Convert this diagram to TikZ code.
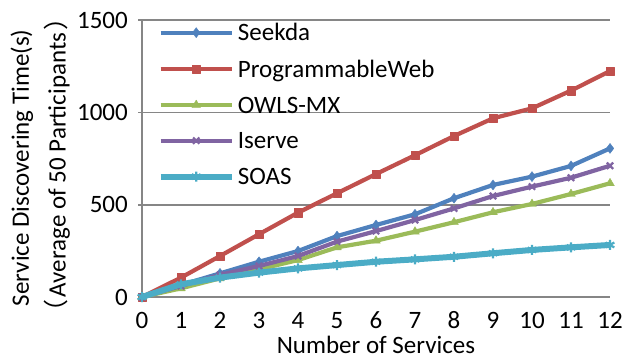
\documentclass[tikz,border=0pt]{standalone}
\usepackage{fontspec}
\setmainfont{Carlito}
\newfontfamily\cjk{Noto Sans CJK SC}
\usetikzlibrary{plotmarks}
\tikzset{>=stealth}
\definecolor{seekdablue}{RGB}{79,129,189}
\definecolor{pwred}{RGB}{192,80,77}
\definecolor{owlsgreen}{RGB}{155,187,89}
\definecolor{iservepurple}{RGB}{128,100,162}
\definecolor{soasaqua}{RGB}{75,172,198}
\definecolor{gridgray}{RGB}{134,134,134}
\tikzset{
  series/.style={line width=4.2pt, line join=round},
  seekda/.style={series, seekdablue, mark=diamond*, mark size=5pt,
    mark options={solid, line width=0.4pt, fill=seekdablue}},
  pweb/.style={series, pwred, mark=square*, mark size=4.2pt,
    mark options={solid, line width=0.4pt, fill=pwred}},
  owls/.style={series, owlsgreen, mark=triangle*, mark size=5pt,
    mark options={solid, line width=0.4pt, fill=owlsgreen}},
  iserve/.style={series, iservepurple, mark=x, mark size=4.5pt,
    mark options={solid, line width=2.2pt}},
  soas/.style={series, line width=6pt, soasaqua, mark=asterisk, mark size=5pt,
    mark options={solid, line width=2.2pt}},
  ticklabel/.style={inner sep=0pt, font=\fontsize{25}{30}\selectfont},
  legendtext/.style={anchor=base west, inner sep=0pt, font=\fontsize{25}{30}\selectfont}
}

\begin{document}
\begin{tikzpicture}[x=39pt, y=0.1846pt]
    \useasboundingbox (-3.641,-341.3) rectangle (12.692,1608.9);
    % grid and axes
    \foreach \y in {0,500,1000,1500}
    \draw[gridgray, line width=1.6pt] (-0.1,\y) -- (12,\y);
    \draw[gridgray, line width=1.6pt] (0,0) -- (0,1500);
    \foreach \y in {0,500,1000,1500}
    \node[ticklabel, anchor=east] at ([xshift=-14pt]0,\y) {\y};
    \foreach \x in {0,...,12}
    \node[ticklabel, anchor=base] at ([yshift=-31pt]\x,0) {\x};
    \node[ticklabel, anchor=base] (xtitle) at ([yshift=-56.5pt]6,0) {Number of Services};
    \node[ticklabel, rotate=90] (ytitle) at ([xshift=-120pt]0,700) {Service Discovering Time(s)};
    \node[ticklabel, rotate=90] (ysub) at ([xshift=-85pt]0,715) {{\cjk （}\hspace{2pt}Average of 50 Participants\hspace{2pt}{\cjk ）}};
    % data series
    \draw[seekda] plot coordinates {(0,0) (1,65) (2,128) (3,191) (4,249) (5,330) (6,390) (7,448) (8,535) (9,607) (10,652) (11,710) (12,805)};
    \draw[pweb] plot coordinates {(0,0) (1,105) (2,222) (3,340) (4,457) (5,562) (6,666) (7,768) (8,872) (9,968) (10,1022) (11,1118) (12,1224)};
    \draw[owls] plot coordinates {(0,0) (1,47) (2,101) (3,150) (4,200) (5,269) (6,305) (7,354) (8,405) (9,459) (10,504) (11,558) (12,616)};
    \draw[iserve] plot coordinates {(0,0) (1,60) (2,120) (3,168) (4,222) (5,300) (6,357) (7,417) (8,480) (9,547) (10,598) (11,646) (12,711)};
    \draw[soas] plot coordinates {(0,0) (1,69) (2,105) (3,132) (4,155) (5,173) (6,191) (7,204) (8,218) (9,237) (10,255) (11,269) (12,282)};
    % legend
    \coordinate (L1) at (0.48,1432);
    \coordinate (L2) at (0.48,1235);
    \coordinate (L3) at (0.48,1040);
    \coordinate (L4) at (0.48,847);
    \coordinate (L5) at (0.48,652);
    \draw[seekda, mark indices={2}] plot coordinates {(L1) ([xshift=35.5pt]L1) ([xshift=71pt]L1)};
    \draw[pweb, mark indices={2}] plot coordinates {(L2) ([xshift=35.5pt]L2) ([xshift=71pt]L2)};
    \draw[owls, mark indices={2}] plot coordinates {(L3) ([xshift=35.5pt]L3) ([xshift=71pt]L3)};
    \draw[iserve, mark indices={2}] plot coordinates {(L4) ([xshift=35.5pt]L4) ([xshift=71pt]L4)};
    \draw[soas, mark indices={2}] plot coordinates {(L5) ([xshift=35.5pt]L5) ([xshift=71pt]L5)};
    \node[legendtext] at ([xshift=77pt, yshift=-8pt]L1) {Seekda};
    \node[legendtext] at ([xshift=77pt, yshift=-8pt]L2) {ProgrammableWeb};
    \node[legendtext] at ([xshift=77pt, yshift=-8pt]L3) {OWLS-MX};
    \node[legendtext] at ([xshift=77pt, yshift=-8pt]L4) {Iserve};
    \node[legendtext] at ([xshift=77pt, yshift=-8pt]L5) {SOAS};
\end{tikzpicture}
\end{document}
